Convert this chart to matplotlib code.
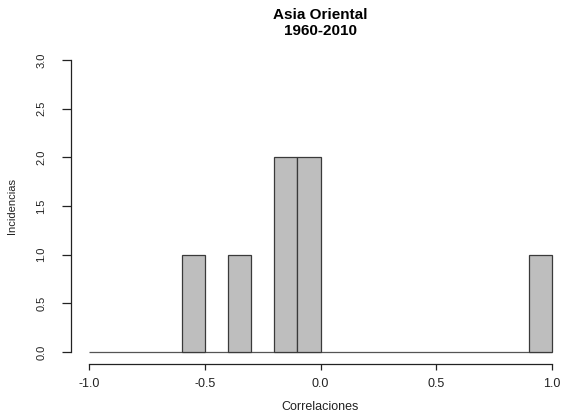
import numpy as np
import matplotlib.pyplot as plt

plt.rcParams['font.family'] = ['Liberation Sans', 'DejaVu Sans']

# bin edges and counts (histogram of correlations, width 0.1)
bin_edges = [round(-1.0 + 0.1 * i, 1) for i in range(21)]
counts = [0, 0, 0, 0, 1, 0, 1, 0, 2, 2, 0, 0, 0, 0, 0, 0, 0, 0, 0, 1]
x_ticks = [-1.0, -0.5, 0.0, 0.5, 1.0]
y_ticks = [0.0, 0.5, 1.0, 1.5, 2.0, 2.5, 3.0]

W, H = 563, 419
fig = plt.figure(figsize=(W / 100, H / 100), dpi=100)

# plot region in pixels (R style, 4% padding)
left, right, top, bottom = 70.5, 570.5, 48.3, 363.7
ax = fig.add_axes([left / W, (H - bottom) / H, (right - left) / W, (bottom - top) / H])

edges = np.array(bin_edges)
cnt = np.array(counts)
nz = cnt > 0
# empty bins show up as a flat line at zero
ax.hlines(0, edges[0], edges[-1], color='#555555', linewidth=0.9, zorder=1)
ax.bar(edges[:-1][nz], cnt[nz], width=np.diff(edges)[nz], align='edge',
       color='#bebebe', edgecolor='#3a3a3a', linewidth=0.9, zorder=2)

ax.set_xlim(-1.08, 1.08)
ax.set_ylim(-0.12, 3.12)
ax.spines['top'].set_visible(False)
ax.spines['right'].set_visible(False)
ax.spines['left'].set_bounds(0, 3)
ax.spines['bottom'].set_bounds(-1, 1)
for s in ['left', 'bottom']:
    ax.spines[s].set_linewidth(0.9)
    ax.spines[s].set_color('#222222')

ax.set_xticks(x_ticks)
ax.set_xticklabels(['%.1f' % v for v in x_ticks])
ax.set_yticks(y_ticks)
ax.set_yticklabels(['%.1f' % v for v in y_ticks], rotation=90, va='center')
ax.tick_params(axis='x', direction='out', length=4.5, width=0.9, pad=6,
               labelsize=9, colors='#222222')
ax.tick_params(axis='y', direction='out', length=6.5, width=0.9, pad=11,
               labelsize=8, colors='#222222')

fig.text(320.5 / W, 1 - 15 / H, 'Asia Oriental', ha='center', va='center',
         fontsize=11, fontweight='bold')
fig.text(320.5 / W, 1 - 31 / H, '1960-2010', ha='center', va='center',
         fontsize=11, fontweight='bold')
fig.text(320.5 / W, 1 - 407 / H, 'Correlaciones', ha='center', va='center',
         fontsize=9, color='#222222')
fig.text(12 / W, 1 - 206 / H, 'Incidencias', ha='center', va='center',
         rotation=90, fontsize=8, color='#222222')

fig.savefig('out.png', dpi=100)
